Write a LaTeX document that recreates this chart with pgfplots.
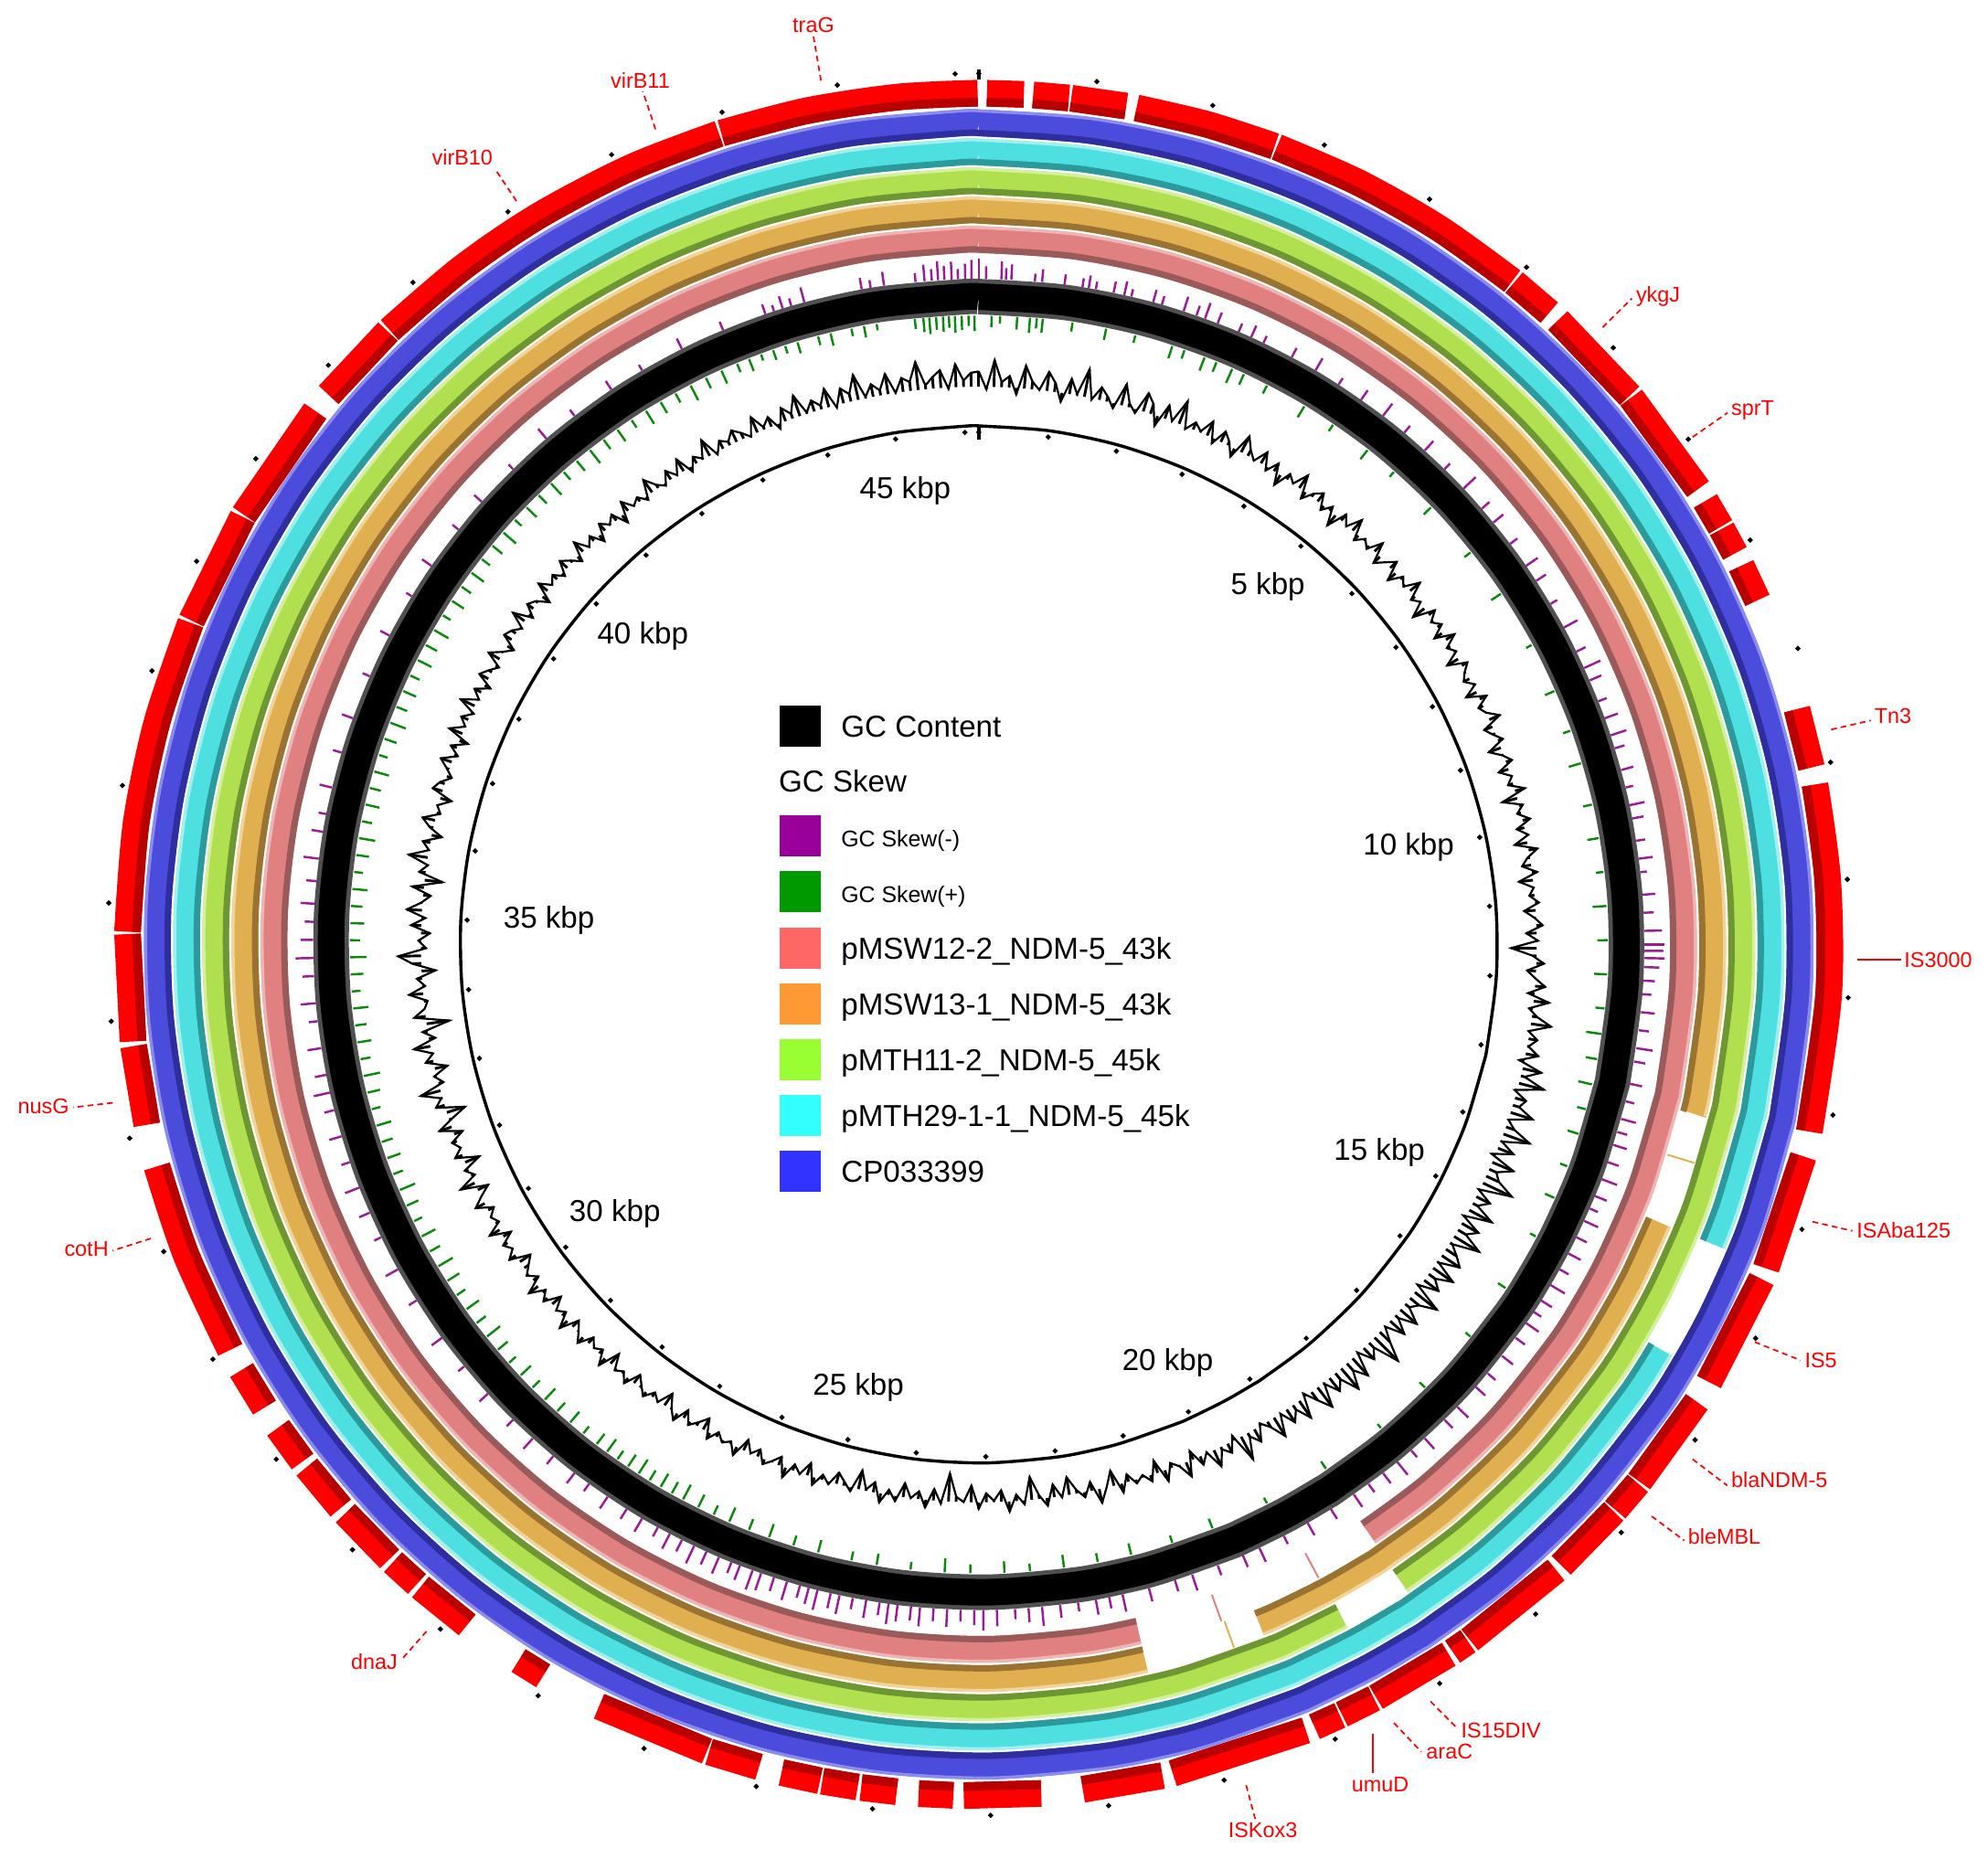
\documentclass[border=0pt]{standalone}
\usepackage{pgfplots}
\pgfplotsset{compat=1.18}
\usepackage{pgfplotstable}
\usepackage{fontspec}
\setmainfont{Liberation Sans}

% ring colours (main / dark inner edge / light outer edge)
\definecolor{gred}{HTML}{FF0000}
\definecolor{gredd}{HTML}{B80000}
\definecolor{rblue}{HTML}{4B4BDC}
\definecolor{rblued}{HTML}{2E2E9E}
\definecolor{rbluel}{HTML}{8C8CF0}
\definecolor{rcyan}{HTML}{4EE0E0}
\definecolor{rcyand}{HTML}{2C9A9A}
\definecolor{rcyanl}{HTML}{A0F0F0}
\definecolor{rgreen}{HTML}{B0E050}
\definecolor{rgreend}{HTML}{6E9632}
\definecolor{rgreenl}{HTML}{D4F09A}
\definecolor{rorg}{HTML}{E0B050}
\definecolor{rorgd}{HTML}{9A7232}
\definecolor{rorgl}{HTML}{F0D49A}
\definecolor{rsal}{HTML}{E08080}
\definecolor{rsald}{HTML}{9A5A5A}
\definecolor{rsall}{HTML}{F0B4B4}
\definecolor{skewneg}{HTML}{9A1A9A}
\definecolor{skewpos}{HTML}{0A8A0A}
\definecolor{ringgray}{HTML}{505050}
% legend colours
\definecolor{lgneg}{HTML}{990099}
\definecolor{lgpos}{HTML}{009900}
\definecolor{lgA}{HTML}{FF6666}
\definecolor{lgB}{HTML}{FF9933}
\definecolor{lgC}{HTML}{99FF33}
\definecolor{lgD}{HTML}{33FFFF}
\definecolor{lgE}{HTML}{3333FF}

% presence of each compared plasmid along the reference (kbp), 1 = hit
\pgfplotstableread{
p     bl cy gr or sa
0     1 1 1 1 1
1     1 1 1 1 1
2     1 1 1 1 1
3     1 1 1 1 1
4     1 1 1 1 1
5     1 1 1 1 1
6     1 1 1 1 1
7     1 1 1 1 1
8     1 1 1 1 1
9     1 1 1 1 1
10    1 1 1 1 1
11    1 1 1 1 1
12    1 1 1 1 1
13    1 1 1 1 1
13.26 1 1 1 1 1
14    1 1 1 nan 1
14.4  1 1 1 1 1
15    1 nan 1 1 1
15.49 1 1 1 1 1
16    1 1 1 1 1
17    1 1 1 1 1
18    1 1 1 1 1
18.8  1 1 1 1 1
19    1 1 nan 1 nan
19.46 1 1 1 1 nan
20    1 1 1 1 nan
20.22 1 1 1 1 nan
21    1 1 1 nan nan
21.42 1 1 1 1 1
22    1 1 1 1 1
23    1 1 1 1 1
24    1 1 1 1 1
25    1 1 1 1 1
26    1 1 1 1 1
27    1 1 1 1 1
28    1 1 1 1 1
29    1 1 1 1 1
30    1 1 1 1 1
31    1 1 1 1 1
32    1 1 1 1 1
33    1 1 1 1 1
34    1 1 1 1 1
35    1 1 1 1 1
36    1 1 1 1 1
37    1 1 1 1 1
38    1 1 1 1 1
39    1 1 1 1 1
40    1 1 1 1 1
41    1 1 1 1 1
42    1 1 1 1 1
43    1 1 1 1 1
44    1 1 1 1 1
45    1 1 1 1 1
46    1 1 1 1 1
46.2  1 1 1 1 1
}\rings

% annotated genes (start, end in kbp), nan separates blocks
\pgfplotstableread[row sep=\\]{
p g\\
0.07 1\\ 0.39 1\\ 0.39 nan\\ 0.47 1\\ 0.78 1\\ 0.78 nan\\ 0.80 1\\ 1.28 1\\ 1.28 nan\\
1.37 1\\ 2.0 1\\ 2.61 1\\ 2.61 nan\\ 2.63 1\\ 3.4 1\\ 4.2 1\\ 4.98 1\\ 4.98 nan\\
5.00 1\\ 5.40 1\\ 5.40 nan\\ 5.50 1\\ 6.40 1\\ 6.40 nan\\ 6.42 1\\ 7.40 1\\ 7.40 nan\\
7.52 1\\ 7.78 1\\ 7.78 nan\\ 7.80 1\\ 8.04 1\\ 8.04 nan\\ 8.16 1\\ 8.49 1\\ 8.49 nan\\
9.49 1\\ 10.01 1\\ 10.01 nan\\ 10.16 1\\ 11.0 1\\ 12.0 1\\ 13.18 1\\ 13.18 nan\\
13.40 1\\ 14.42 1\\ 14.42 nan\\ 14.52 1\\ 15.52 1\\ 15.52 nan\\ 15.72 1\\ 16.57 1\\ 16.57 nan\\
16.59 1\\ 16.89 1\\ 16.89 nan\\ 16.91 1\\ 17.56 1\\ 17.56 nan\\ 17.62 1\\ 18.58 1\\ 18.58 nan\\
18.60 1\\ 18.76 1\\ 18.76 nan\\ 18.80 1\\ 19.53 1\\ 19.53 nan\\ 19.55 1\\ 19.86 1\\ 19.86 nan\\
19.88 1\\ 20.12 1\\ 20.12 nan\\ 20.20 1\\ 21.41 1\\ 21.41 nan\\ 21.50 1\\ 22.20 1\\ 22.20 nan\\
22.56 1\\ 23.23 1\\ 23.23 nan\\ 23.32 1\\ 23.62 1\\ 23.62 nan\\ 23.81 1\\ 24.12 1\\ 24.12 nan\\
24.15 1\\ 24.46 1\\ 24.46 nan\\ 24.48 1\\ 24.82 1\\ 24.82 nan\\ 25.02 1\\ 25.47 1\\ 25.47 nan\\
25.49 1\\ 26.50 1\\ 26.50 nan\\ 27.05 1\\ 27.30 1\\ 27.30 nan\\ 27.84 1\\ 28.36 1\\ 28.36 nan\\
28.40 1\\ 28.68 1\\ 28.68 nan\\ 28.72 1\\ 29.27 1\\ 29.27 nan\\ 29.33 1\\ 29.79 1\\ 29.79 nan\\
29.85 1\\ 30.21 1\\ 30.21 nan\\ 30.42 1\\ 30.80 1\\ 30.80 nan\\ 31.00 1\\ 31.9 1\\ 32.71 1\\ 32.71 nan\\
33.08 1\\ 33.77 1\\ 33.77 nan\\ 33.81 1\\ 34.74 1\\ 34.74 nan\\ 34.76 1\\ 35.7 1\\ 36.6 1\\ 37.50 1\\ 37.50 nan\\
37.52 1\\ 38.52 1\\ 38.52 nan\\ 38.54 1\\ 39.63 1\\ 39.63 nan\\ 39.81 1\\ 40.56 1\\ 40.56 nan\\
40.58 1\\ 41.4 1\\ 42.2 1\\ 43.1 1\\ 43.92 1\\ 43.92 nan\\ 43.94 1\\ 44.7 1\\ 45.5 1\\ 46.19 1\\
}\genes

% GC skew (-) ticks: position kbp, length
\pgfplotstableread[row sep=\\]{
p L\\
43.8 8\\ 43.9 5\\ 44.0 10\\ 44.1 6\\ 44.25 12\\ 44.9 9\\ 45.0 6\\ 45.15 11\\ 45.5 7\\ 45.6 13\\
45.68 9\\ 45.75 15\\ 45.82 11\\ 45.9 14\\ 45.97 8\\ 46.05 12\\ 46.12 15\\ 0.0 16\\ 0.08 10\\ 0.25 14\\
0.3 9\\ 0.36 12\\ 0.62 6\\ 0.7 10\\ 0.95 8\\ 1.15 7\\ 1.22 10\\ 1.3 6\\ 1.5 9\\ 1.62 11\\
1.7 6\\ 1.95 10\\ 2.05 7\\ 2.3 12\\ 2.45 8\\ 2.55 13\\ 2.7 9\\ 2.95 7\\ 3.1 10\\ 3.25 6\\
3.6 8\\ 3.9 11\\ 4.2 6\\ 4.5 9\\ 4.8 12\\ 5.1 7\\ 5.4 10\\ 5.7 6\\ 6.0 13\\ 6.3 8\\
6.5 10\\ 6.8 7\\ 7.1 11\\ 7.3 9\\ 7.6 6\\ 7.9 12\\ 8.2 8\\ 8.4 14\\ 8.55 10\\ 8.8 7\\
9.0 11\\ 9.2 13\\ 9.35 8\\ 9.6 10\\ 9.8 6\\ 10.0 12\\ 10.15 9\\ 10.4 7\\ 10.6 11\\ 10.75 5\\
11.0 10\\ 11.2 8\\ 11.4 14\\ 11.55 16\\ 11.62 15\\ 11.7 16\\ 11.8 12\\ 11.95 9\\ 12.1 7\\ 12.3 11\\
12.5 8\\ 12.7 13\\ 12.85 9\\ 13.1 10\\ 13.3 7\\ 13.5 12\\ 13.65 8\\ 13.8 11\\ 14.0 9\\ 14.2 13\\
14.4 10\\ 14.55 7\\ 14.7 12\\ 14.9 9\\ 15.1 11\\ 15.3 8\\ 15.5 13\\ 15.7 10\\ 15.85 7\\ 16.0 12\\
16.2 9\\ 16.45 11\\ 16.7 8\\ 16.9 10\\ 17.2 12\\ 17.4 9\\ 17.7 11\\ 17.9 7\\ 18.1 13\\ 18.3 10\\
18.5 8\\ 18.7 12\\ 19.0 9\\ 19.3 11\\ 19.6 7\\ 19.9 12\\ 20.1 10\\ 20.4 8\\ 20.7 13\\ 20.9 9\\
21.2 11\\ 21.5 14\\ 21.65 9\\ 21.8 12\\ 22.0 7\\ 22.2 10\\ 22.4 15\\ 22.55 11\\ 22.7 8\\ 22.9 13\\
23.05 16\\ 23.15 12\\ 23.3 9\\ 23.45 14\\ 23.6 10\\ 23.75 15\\ 23.85 11\\ 24.0 13\\ 24.1 16\\ 24.2 10\\
24.35 14\\ 24.5 9\\ 24.65 15\\ 24.75 12\\ 24.9 16\\ 25.0 13\\ 25.1 10\\ 25.25 15\\ 25.4 11\\ 25.55 14\\
25.65 16\\ 25.8 12\\ 25.9 9\\ 26.05 14\\ 26.2 11\\ 26.35 15\\ 26.5 10\\ 26.65 13\\ 26.8 8\\ 27.0 12\\
27.2 9\\ 27.45 11\\ 27.7 7\\ 27.9 10\\ 28.2 8\\ 28.5 11\\ 28.8 7\\ 29.2 9\\ 29.6 6\\ 30.0 10\\
30.5 7\\ 30.9 11\\ 31.3 6\\ 31.6 9\\ 31.9 12\\ 32.2 7\\ 32.5 10\\ 32.8 8\\ 33.0 13\\ 33.2 9\\
33.5 11\\ 33.8 7\\ 34.0 12\\ 34.3 9\\ 34.5 14\\ 34.7 10\\ 34.9 7\\ 35.1 11\\ 35.35 8\\ 35.6 12\\
35.9 9\\ 36.1 6\\ 36.4 10\\ 36.8 7\\ 37.2 9\\ 37.7 6\\ 38.2 8\\ 38.7 5\\ 39.1 9\\ 39.6 6\\
40.0 8\\ 40.5 5\\ 41.0 10\\ 41.4 6\\ 41.9 8\\ 42.3 5\\ 42.8 9\\ 43.3 7\\
}\skewneg

% GC skew (+) ticks: position kbp, length
\pgfplotstableread[row sep=\\]{
p L\\
43.6 5\\ 43.75 8\\ 43.9 6\\ 44.05 9\\ 44.3 7\\ 44.45 10\\ 44.7 6\\ 44.85 9\\ 45.0 5\\ 45.45 8\\
45.55 11\\ 45.62 13\\ 45.7 10\\ 45.78 12\\ 45.85 9\\ 45.92 13\\ 46.0 11\\ 46.08 8\\ 46.15 12\\ 0.15 9\\
0.25 6\\ 0.45 10\\ 0.6 12\\ 0.68 8\\ 0.75 11\\ 1.1 7\\ 1.5 9\\ 1.85 6\\ 2.3 10\\ 2.45 7\\
2.7 11\\ 2.85 8\\ 3.05 12\\ 3.2 9\\ 3.5 7\\ 4.0 10\\ 4.4 6\\ 4.9 9\\ 5.3 5\\ 5.9 8\\
6.6 6\\ 7.2 9\\ 7.9 5\\ 8.5 8\\ 9.0 6\\ 9.4 10\\ 9.9 7\\ 10.3 9\\ 10.7 6\\ 11.1 11\\
11.5 8\\ 11.9 10\\ 12.3 7\\ 12.6 12\\ 12.9 9\\ 13.2 11\\ 13.5 7\\ 13.8 9\\ 14.2 6\\ 14.6 8\\
15.1 5\\ 15.8 7\\ 16.5 5\\ 17.3 6\\ 18.0 4\\ 18.8 7\\ 19.6 5\\ 20.3 8\\ 20.8 6\\ 21.3 9\\
21.7 7\\ 22.1 10\\ 22.5 6\\ 22.8 9\\ 23.2 7\\ 23.5 11\\ 23.9 6\\ 24.3 9\\ 24.6 7\\ 25.0 10\\
25.3 8\\ 25.6 11\\ 25.85 9\\ 26.1 12\\ 26.3 8\\ 26.5 11\\ 26.7 13\\ 26.85 10\\ 27.0 12\\ 27.15 9\\
27.3 13\\ 27.45 11\\ 27.6 8\\ 27.75 12\\ 27.9 10\\ 28.1 7\\ 28.3 11\\ 28.5 9\\ 28.7 12\\ 28.9 8\\
29.1 11\\ 29.3 7\\ 29.5 10\\ 29.7 13\\ 29.9 9\\ 30.1 12\\ 30.3 8\\ 30.5 11\\ 30.7 13\\ 30.9 9\\
31.1 12\\ 31.3 7\\ 31.5 10\\ 31.7 13\\ 31.9 8\\ 32.1 11\\ 32.3 9\\ 32.5 12\\ 32.7 7\\ 32.9 10\\
33.1 13\\ 33.3 8\\ 33.5 11\\ 33.7 9\\ 33.9 12\\ 34.1 7\\ 34.3 10\\ 34.5 13\\ 34.7 8\\ 34.9 11\\
35.1 9\\ 35.3 12\\ 35.5 7\\ 35.7 10\\ 35.9 13\\ 36.1 8\\ 36.3 11\\ 36.5 9\\ 36.7 12\\ 36.9 7\\
37.1 10\\ 37.3 13\\ 37.5 9\\ 37.7 11\\ 37.9 8\\ 38.1 12\\ 38.3 10\\ 38.5 13\\ 38.7 7\\ 38.9 11\\
39.1 9\\ 39.3 12\\ 39.5 8\\ 39.7 10\\ 39.9 13\\ 40.1 7\\ 40.3 11\\ 40.5 9\\ 40.7 12\\ 40.9 8\\
41.1 10\\ 41.3 13\\ 41.5 9\\ 41.7 11\\ 41.9 7\\ 42.1 12\\ 42.3 10\\ 42.5 8\\ 42.7 13\\ 42.9 9\\
43.1 11\\ 43.3 7\\ 43.45 10\\
}\skewpos

% GC content, one value every 0.1 kbp from 0 to 46.2 kbp (plotted radius, baseline 440)
\pgfplotstableread[row sep=\\]{
r\\
452\\438\\461\\444\\449\\435\\458\\446\\440\\455\\
447\\433\\452\\441\\462\\439\\450\\444\\436\\457\\
443\\437\\455\\448\\432\\451\\440\\459\\438\\446\\
441\\452\\436\\449\\443\\433\\454\\445\\439\\450\\
437\\447\\431\\445\\440\\452\\434\\443\\448\\436\\
444\\430\\446\\439\\451\\435\\442\\437\\449\\433\\
440\\447\\432\\443\\438\\450\\436\\441\\429\\446\\
438\\444\\433\\448\\437\\442\\430\\445\\439\\435\\
442\\431\\446\\436\\440\\449\\433\\438\\444\\430\\
439\\445\\432\\441\\436\\448\\428\\443\\437\\446\\
434\\442\\430\\447\\438\\433\\444\\429\\440\\436\\
443\\431\\439\\445\\432\\441\\420\\437\\446\\433\\
440\\448\\435\\452\\437\\444\\456\\439\\447\\441\\
450\\436\\455\\443\\460\\438\\449\\445\\458\\440\\
447\\462\\441\\453\\437\\458\\446\\451\\465\\439\\
452\\444\\460\\438\\455\\447\\463\\442\\450\\457\\
441\\459\\446\\454\\438\\462\\449\\444\\457\\443\\
455\\440\\451\\466\\445\\452\\439\\458\\447\\461\\
446\\453\\441\\459\\448\\437\\456\\444\\452\\440\\
457\\445\\438\\451\\443\\460\\436\\448\\442\\454\\
439\\447\\433\\452\\441\\436\\449\\430\\445\\438\\
443\\434\\447\\428\\440\\451\\433\\444\\437\\426\\
441\\430\\446\\437\\422\\443\\435\\448\\431\\439\\
433\\445\\427\\440\\436\\418\\442\\431\\446\\434\\
440\\429\\444\\436\\447\\432\\439\\425\\443\\437\\
431\\442\\436\\446\\430\\441\\435\\448\\433\\439\\
444\\434\\440\\431\\447\\438\\442\\436\\445\\430\\
437\\443\\433\\446\\439\\429\\441\\436\\444\\438\\
432\\445\\438\\442\\430\\447\\436\\440\\434\\446\\
439\\433\\448\\436\\441\\431\\444\\437\\449\\435\\
442\\436\\430\\446\\439\\444\\433\\449\\437\\441\\
435\\448\\440\\431\\452\\437\\443\\428\\446\\439\\
444\\433\\450\\438\\425\\447\\441\\456\\436\\442\\
430\\446\\439\\453\\435\\444\\422\\449\\440\\437\\
451\\438\\444\\429\\447\\458\\436\\442\\433\\448\\
437\\452\\441\\434\\449\\426\\445\\439\\455\\440\\
446\\432\\443\\450\\437\\441\\431\\448\\444\\436\\
442\\449\\437\\445\\433\\451\\440\\446\\438\\452\\
439\\446\\435\\448\\443\\437\\450\\441\\434\\447\\
444\\438\\451\\436\\446\\442\\433\\449\\440\\445\\
437\\448\\442\\435\\450\\439\\445\\434\\447\\441\\
446\\433\\449\\440\\444\\437\\452\\443\\438\\448\\
440\\451\\436\\446\\441\\454\\438\\447\\443\\450\\
445\\439\\453\\442\\448\\436\\451\\444\\457\\441\\
449\\443\\455\\438\\452\\446\\460\\441\\450\\444\\
456\\440\\451\\447\\462\\443\\449\\454\\439\\458\\
445\\451\\452\\
}\gc
% helper column so that the table has two columns
\pgfplotstablecreatecol[expr={1}]{t}{\gc}

% scale positions (kbp), with a flag column
\pgfplotstableread[row sep=\\]{
p t\\ 0 1\\ 1 1\\ 2 1\\ 3 1\\ 4 1\\ 5 1\\ 6 1\\ 7 1\\ 8 1\\ 9 1\\ 10 1\\ 11 1\\ 12 1\\ 13 1\\ 14 1\\ 15 1\\
16 1\\ 17 1\\ 18 1\\ 19 1\\ 20 1\\ 21 1\\ 22 1\\ 23 1\\ 24 1\\ 25 1\\ 26 1\\ 27 1\\ 28 1\\ 29 1\\ 30 1\\ 31 1\\
32 1\\ 33 1\\ 34 1\\ 35 1\\ 36 1\\ 37 1\\ 38 1\\ 39 1\\ 40 1\\ 41 1\\ 42 1\\ 43 1\\ 44 1\\ 45 1\\ 46 1\\
}\scalepos

\pgfplotsset{
  table/kbp/.style={x expr=90-\thisrow{p}*7.79221},
  ring/.style={no marks, forget plot, data cs=polar, line join=round, smooth, tension=0.5},
  straight/.style={no marks, forget plot, data cs=polar},
  leader/.style={no marks, forget plot, red, line width=0.35pt, dash pattern=on 1.3pt off 0.9pt},
  leadersolid/.style={no marks, forget plot, red, line width=0.35pt},
  skewticks/.style={forget plot, data cs=polar, scatter, only marks, mark=|,
    mark options={line width=0.5pt},
    scatter/use mapped color={draw=#1, fill=#1},
    visualization depends on={\thisrow{p} \as \pp},
    visualization depends on={\thisrow{L} \as \LL},
    scatter/@pre marker code/.append style={/tikz/rotate=-\pp*7.79221, /tikz/mark size=\LL*0.1423pt}},
}
\tikzset{
  glabel/.style={red, font=\fontsize{4.8}{5.8}\selectfont, inner sep=0.5pt},
  klabel/.style={black, font=\fontsize{6.8}{8}\selectfont, inner sep=0pt},
}

\begin{document}
\begin{tikzpicture}
\begin{axis}[
  width=156.8mm, height=146.6mm, scale only axis,
  xmin=-772, xmax=796, ymin=-721, ymax=745,
  hide axis, clip=false,
  unbounded coords=jump,
  legend cell align=left,
  legend image code/.code={\fill[#1] (0pt,-4.4pt) rectangle (8.8pt,4.4pt);},
  legend style={at={(axis cs:-157,188.5)}, anchor=north west, draw=none, fill=none,
    inner sep=0pt, outer sep=0pt, row sep=3.35pt, column sep=4.6pt,
    font=\fontsize{6.8}{8}\selectfont,
    nodes={inner sep=0pt, text height=6.85pt, text depth=1.95pt}},
]

% outer annotation ring
\addplot[ring, gred, line width=2.1mm] table[kbp, y expr=671.5*\thisrow{g}] {\genes};
\addplot[ring, gredd, line width=0.7mm] table[kbp, y expr=664.5*\thisrow{g}] {\genes};

% CP033399
\addplot[ring, rblue, line width=2.1mm] table[kbp, y expr=648*\thisrow{bl}] {\rings};
\addplot[ring, rbluel, line width=0.25mm] table[kbp, y expr=657.5*\thisrow{bl}] {\rings};
\addplot[ring, rblued, line width=0.5mm] table[kbp, y expr=640*\thisrow{bl}] {\rings};
% pMTH29-1-1
\addplot[ring, rcyan, line width=2.1mm] table[kbp, y expr=625*\thisrow{cy}] {\rings};
\addplot[ring, rcyanl, line width=0.25mm] table[kbp, y expr=634.5*\thisrow{cy}] {\rings};
\addplot[ring, rcyand, line width=0.5mm] table[kbp, y expr=617*\thisrow{cy}] {\rings};
% pMTH11-2
\addplot[ring, rgreen, line width=2.1mm] table[kbp, y expr=602*\thisrow{gr}] {\rings};
\addplot[ring, rgreenl, line width=0.25mm] table[kbp, y expr=611.5*\thisrow{gr}] {\rings};
\addplot[ring, rgreend, line width=0.5mm] table[kbp, y expr=594*\thisrow{gr}] {\rings};
% pMSW13-1
\addplot[ring, rorg, line width=2.1mm] table[kbp, y expr=579*\thisrow{or}] {\rings};
\addplot[ring, rorgl, line width=0.25mm] table[kbp, y expr=588.5*\thisrow{or}] {\rings};
\addplot[ring, rorgd, line width=0.5mm] table[kbp, y expr=571*\thisrow{or}] {\rings};
% pMSW12-2
\addplot[ring, rsal, line width=2.1mm] table[kbp, y expr=556*\thisrow{sa}] {\rings};
\addplot[ring, rsall, line width=0.25mm] table[kbp, y expr=565.5*\thisrow{sa}] {\rings};
\addplot[ring, rsald, line width=0.5mm] table[kbp, y expr=548*\thisrow{sa}] {\rings};
% short hits inside the gaps
\addplot[straight, rorg, line width=0.4pt] coordinates {(-16.98,568) (-16.98,590)};
\addplot[straight, rorg, line width=0.4pt] coordinates {(-70.05,568) (-70.05,590)};
\addplot[straight, rsal, line width=0.4pt] coordinates {(-61.79,545) (-61.79,567)};
\addplot[straight, rsal, line width=0.4pt] coordinates {(-70.28,545) (-70.28,567)};

% GC skew
\addplot[skewticks=skewneg] table[kbp, y expr=525+\thisrow{L}/2] {\skewneg};
\addplot[skewticks=skewpos] table[kbp, y expr=496-\thisrow{L}/2] {\skewpos};

% backbone ring
\addplot[ring, ringgray, line width=2.8mm] table[kbp, y expr=511*\thisrow{bl}] {\rings};
\addplot[ring, black, line width=2.1mm] table[kbp, y expr=511*\thisrow{bl}] {\rings};

% GC content: spikes from the 440 baseline plus the connecting line
\addplot[forget plot, data cs=polar, scatter, only marks, mark=|,
    mark options={line width=0.6pt},
    scatter/use mapped color={draw=black, fill=black},
    visualization depends on={\coordindex*0.1 \as \pp},
    visualization depends on={abs(\thisrow{r}-440) \as \LL},
    scatter/@pre marker code/.append style={/tikz/rotate=-\pp*7.79221, /tikz/mark size=\LL*0.1423pt}]
  table[x expr=90-\coordindex*0.779221, y expr=(\thisrow{r}+440)/2] {\gc};
\addplot[straight, black, line width=0.45pt] table[x expr=90-\coordindex*0.779221, y=r] {\gc};

% scale circle and ticks
\addplot[ring, black, line width=0.7pt] table[kbp, y expr=409*\thisrow{bl}] {\rings};
\addplot[forget plot, data cs=polar, only marks, mark=*, mark size=0.35pt, black] table[kbp, y expr=404*\thisrow{t}] {\scalepos};
\addplot[forget plot, data cs=polar, only marks, mark=*, mark size=0.35pt, black] table[kbp, y expr=687*\thisrow{t}] {\scalepos};
\addplot[straight, black, line width=0.8pt] coordinates {(90,398) (90,409)};
\addplot[straight, black, line width=0.8pt] coordinates {(90,682) (90,690)};

% kbp labels
\node[klabel] at (axis cs:-58,358) {45 kbp};
\node[klabel] at (axis cs:228,282) {5 kbp};
\node[klabel] at (axis cs:339,77) {10 kbp};
\node[klabel] at (axis cs:316,-164) {15 kbp};
\node[klabel] at (axis cs:149,-330) {20 kbp};
\node[klabel] at (axis cs:-95,-349) {25 kbp};
\node[klabel] at (axis cs:-287,-212) {30 kbp};
\node[klabel] at (axis cs:-339,19) {35 kbp};
\node[klabel] at (axis cs:-265,243) {40 kbp};

% gene labels
\addplot[leader] coordinates {(-124.4,681.3) (-130.4,716.2)};
\node[glabel, anchor=south] at (axis cs:-130.4,716.5) {traG};
\addplot[leader] coordinates {(-255,643) (-265,673)};
\node[glabel, anchor=south] at (axis cs:-267,673) {virB11};
\addplot[leader] coordinates {(-364.7,586.4) (-381.5,611.6)};
\node[glabel, anchor=south east] at (axis cs:-381,612) {virB10};
\addplot[leader] coordinates {(492,486.7) (515,509.5)};
\node[glabel, anchor=west] at (axis cs:516,511) {ykgJ};
\addplot[leader] coordinates {(563,400.2) (590.6,419.4)};
\node[glabel, anchor=west] at (axis cs:591,421.5) {sprT};
\addplot[leader] coordinates {(672.3,169.5) (703.5,176.7)};
\node[glabel, anchor=west] at (axis cs:704,180) {Tn3};
\addplot[leadersolid] coordinates {(692.7,-12) (727.5,-12)};
\node[glabel, anchor=west] at (axis cs:727.5,-12) {IS3000};
\addplot[leader] coordinates {(657.6,-218.7) (689,-225.9)};
\node[glabel, anchor=west] at (axis cs:690,-225.8) {ISAba125};
\addplot[leader] coordinates {(612,-313.6) (648.2,-328)};
\node[glabel, anchor=west] at (axis cs:649,-328) {IS5};
\addplot[leader] coordinates {(563,-406) (590.3,-426.8)};
\node[glabel, anchor=west] at (axis cs:591,-422) {blaNDM-5};
\addplot[leader] coordinates {(530.7,-451) (556.5,-470.2)};
\node[glabel, anchor=west] at (axis cs:557,-467) {bleMBL};
\addplot[leader] coordinates {(356.3,-597.1) (376.7,-617.6)};
\node[glabel, anchor=west] at (axis cs:378,-620) {IS15DIV};
\addplot[leader] coordinates {(327.4,-614) (349,-636.8)};
\node[glabel, anchor=west] at (axis cs:350.5,-636.8) {araC};
\addplot[leadersolid] coordinates {(310.6,-622.4) (310.6,-653.6)};
\node[glabel, anchor=north] at (axis cs:316.6,-654) {umuD};
\addplot[leader] coordinates {(210.9,-663.2) (218,-689.7)};
\node[glabel, anchor=north] at (axis cs:224,-690) {ISKox3};
\addplot[leader] coordinates {(-435.6,-541.8) (-454.8,-563.5)};
\node[glabel, anchor=east] at (axis cs:-456,-566) {dnaJ};
\addplot[leader] coordinates {(-653,-231.9) (-683.1,-241.5)};
\node[glabel, anchor=east] at (axis cs:-684,-240.3) {cotH};
\addplot[leader] coordinates {(-683.1,-124.9) (-714.3,-128.5)};
\node[glabel, anchor=east] at (axis cs:-715,-127.3) {nusG};

% legend
\addlegendimage{black}
\addlegendentry{GC Content}
\addlegendimage{empty legend}
\addlegendentry{\hspace*{-14pt}GC Skew}
\addlegendimage{lgneg}
\addlegendentry{\fontsize{5.1}{6}\selectfont GC Skew(-)}
\addlegendimage{lgpos}
\addlegendentry{\fontsize{5.1}{6}\selectfont GC Skew(+)}
\addlegendimage{lgA}
\addlegendentry{pMSW12-2\_NDM-5\_43k}
\addlegendimage{lgB}
\addlegendentry{pMSW13-1\_NDM-5\_43k}
\addlegendimage{lgC}
\addlegendentry{pMTH11-2\_NDM-5\_45k}
\addlegendimage{lgD}
\addlegendentry{pMTH29-1-1\_NDM-5\_45k}
\addlegendimage{lgE}
\addlegendentry{CP033399}

\end{axis}
\pgfresetboundingbox
\useasboundingbox (current axis.south west) rectangle (current axis.north east);
\end{tikzpicture}
\end{document}
